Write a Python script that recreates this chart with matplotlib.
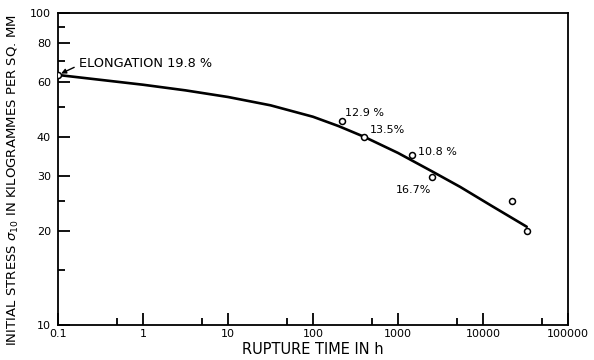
import numpy as np
import matplotlib
matplotlib.use('Agg')
import matplotlib.pyplot as plt
from matplotlib.ticker import FixedLocator, NullFormatter

# test points (rupture time in h, stress in kg/mm2)
point_time = [0.1, 220, 400, 1480, 2490, 22100, 32700]
point_stress = [63.3, 45.0, 40.0, 35.0, 29.9, 25.0, 20.0]

# the hand-drawn mean curve, read at a number of places along it
curve_time = [0.1, 1, 3.16, 10, 31.6, 100, 200, 400, 1000, 2500, 5400, 12600, 32700]
curve_stress = [63.3, 58.9, 56.5, 53.8, 50.6, 46.5, 43.4, 40.1, 35.6, 31.1, 27.7, 24.1, 20.65]

# elongation labels: (point index, text, offset in points, alignment)
elong_labels = [
    (1, '12.9 %', (2, 6), 'left'),
    (2, '13.5%', (4, 5), 'left'),
    (3, '10.8 %', (4, 2.5), 'left'),
    (4, '16.7%', (0, -9.5), 'right'),
]

x_ticks = [0.1, 1, 10, 100, 1000, 10000, 100000]
x_tick_labels = ['0.1', '1', '10', '100', '1000', '10000', '100000']
x_minor = [0.5, 5, 50, 500, 5000, 50000]
y_ticks = [10, 20, 30, 40, 60, 80, 100]
y_minor = [15, 25, 50, 70, 90]

plt.rcParams['font.family'] = 'DejaVu Sans'

fig = plt.figure(figsize=(5.94, 3.6), dpi=100)
ax = fig.add_axes([58/594, 1 - 325/360, 510/594, 312/360])

ax.plot(curve_time, curve_stress, color='black', linewidth=1.9,
        solid_capstyle='round', solid_joinstyle='round')
ax.plot(point_time, point_stress, linestyle='none', marker='o', markersize=4.3,
        markerfacecolor='white', markeredgecolor='black', markeredgewidth=1.1, zorder=3)

ax.set_xscale('log')
ax.set_yscale('log')
ax.set_xlim(0.1, 100000)
ax.set_ylim(10, 100)

ax.xaxis.set_major_locator(FixedLocator(x_ticks))
ax.set_xticklabels(x_tick_labels)
ax.xaxis.set_minor_locator(FixedLocator(x_minor))
ax.xaxis.set_minor_formatter(NullFormatter())
ax.yaxis.set_major_locator(FixedLocator(y_ticks))
ax.set_yticklabels([str(v) for v in y_ticks])
ax.yaxis.set_minor_locator(FixedLocator(y_minor))
ax.yaxis.set_minor_formatter(NullFormatter())

ax.tick_params(which='major', direction='in', length=8.5, width=1.3, labelsize=8, color='black')
ax.tick_params(which='minor', direction='in', length=5, width=1.3, color='black')
ax.tick_params(axis='x', which='major', pad=3)
ax.tick_params(axis='y', which='major', pad=5)
ax.tick_params(top=False, right=False)

for side in ax.spines.values():
    side.set_linewidth(1.3)

ax.set_xlabel('RUPTURE TIME IN h', fontsize=10.5, labelpad=2)
ax.set_ylabel(r'INITIAL STRESS $\sigma_{10}$ IN KILOGRAMMES PER SQ. MM', fontsize=9.5,
              va='center', ha='center')
ax.yaxis.set_label_coords(-0.088, 0.465)

for idx, txt, off, ha in elong_labels:
    ax.annotate(txt, (point_time[idx], point_stress[idx]), xytext=off,
                textcoords='offset points', ha=ha, va='center', fontsize=8)

ax.annotate('ELONGATION 19.8 %', (point_time[0], point_stress[0]), xytext=(15, 8),
            textcoords='offset points', ha='left', va='center', fontsize=9.3,
            arrowprops=dict(arrowstyle='-|>', color='black', lw=1, shrinkA=1.5, shrinkB=2.5,
                            mutation_scale=7, relpos=(0, 0.4)))

fig.savefig('out.png', dpi=100)
